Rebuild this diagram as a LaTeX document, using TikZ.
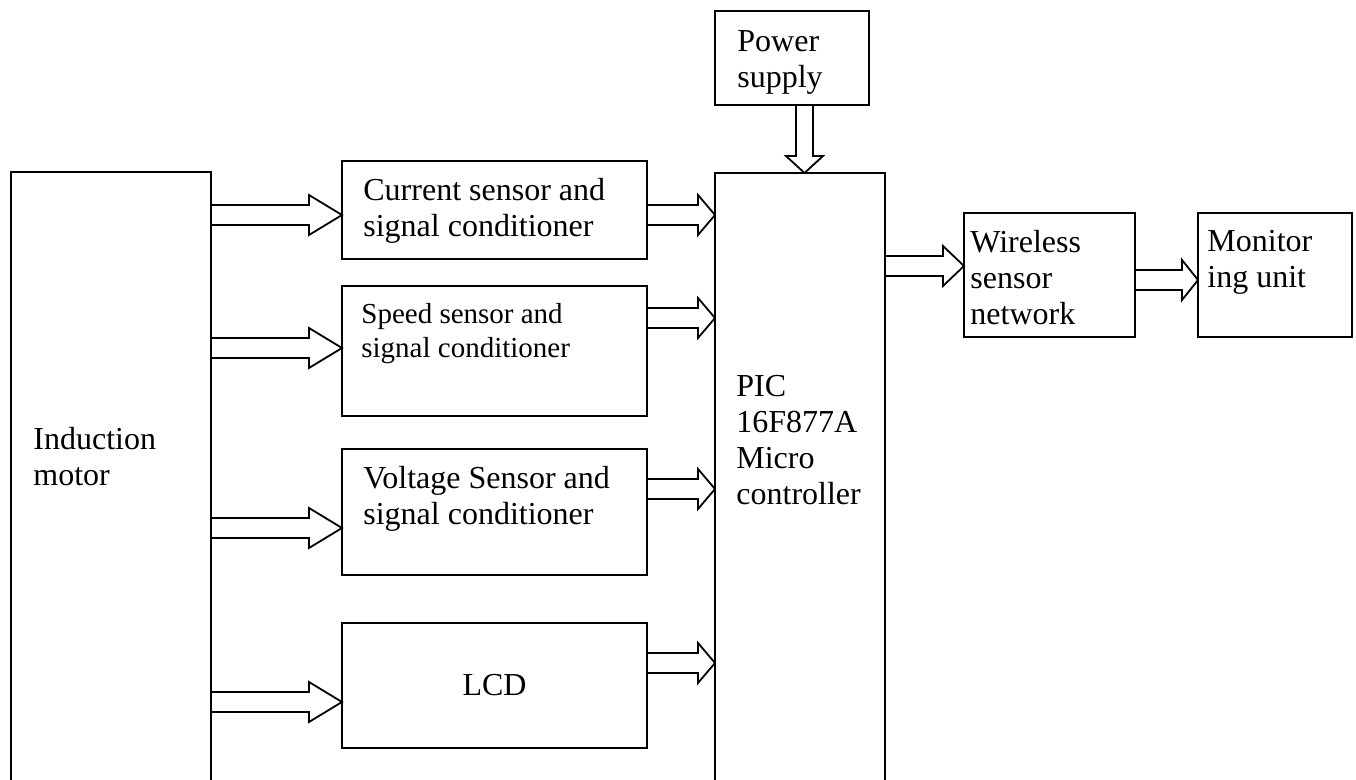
\documentclass[tikz,border=0pt]{standalone}
\usepackage{fontspec}
\setmainfont{Liberation Serif}
\usetikzlibrary{positioning,calc}

% hollow block arrow, horizontal: from x of #2 to the point #3
\newcommand{\blockarr}[3][8.5pt]{%
  \draw[hollow] let \p1=(#2), \p2=(#3) in
    (\x1,\y2+5pt) -- (\x2-#1,\y2+5pt) -- (\x2-#1,\y2+10pt) -- (\x2,\y2)
    -- (\x2-#1,\y2-10pt) -- (\x2-#1,\y2-5pt) -- (\x1,\y2-5pt);}
% same, pointing down: from y of #2 to the point #3
\newcommand{\blockarrdown}[3][8.5pt]{%
  \draw[hollow] let \p1=(#2), \p2=(#3) in
    (\x2-4.25pt,\y1) -- (\x2-4.25pt,\y2+#1) -- (\x2-9.25pt,\y2+#1) -- (\x2,\y2)
    -- (\x2+9.25pt,\y2+#1) -- (\x2+4.25pt,\y2+#1) -- (\x2+4.25pt,\y1);}

\begin{document}
\begin{tikzpicture}[
	x=0.5pt, y=-0.5pt,
	font=\fontsize{16}{18}\selectfont,
	box/.style={draw=black, line width=0.9pt, anchor=north west, inner sep=0pt, outer sep=0pt},
	txt/.style={align=left, inner sep=0pt},
	hollow/.style={draw=black, line width=0.9pt, line join=miter}
	]
	\useasboundingbox (0,0) rectangle (1356,780);
	\clip (0,0) rectangle (1356,780);
	% blocks
	\node[box, minimum width=100pt, minimum height=314pt] (motor) at (11,172) {};
	\node[box, minimum width=152.5pt, minimum height=49pt] (cur) at (342,161) {};
	\node[box, minimum width=152.5pt, minimum height=65pt] (spd) at (342,286) {};
	\node[box, minimum width=152.5pt, minimum height=63pt] (volt) at (342,449) {};
	\node[box, minimum width=152.5pt, minimum height=62.5pt] (lcd) at (342,623) {LCD};
	\node[box, minimum width=85pt, minimum height=313.5pt] (pic) at (715,173) {};
	\node[box, minimum width=77pt, minimum height=47pt] (pwr) at (715,11) {};
	\node[box, minimum width=85.5pt, minimum height=62pt] (wsn) at (964,213) {};
	\node[box, minimum width=77pt, minimum height=62pt] (mon) at (1198,213) {};
	% texts
	\node[txt, below right=127.5pt and 11pt of motor.north west] (motortext) {Induction\\motor};
	\node[txt, below right=8.5pt and 10.5pt of cur.north west] (curtext) {Current sensor and\\signal conditioner};
	\node[txt, below right=8.5pt and 9.5pt of spd.north west, font=\fontsize{14.5}{17}\selectfont] (spdtext) {Speed sensor and\\signal conditioner};
	\node[txt, below right=8.5pt and 10.5pt of volt.north west] (volttext) {Voltage Sensor and\\signal conditioner};
	\node[txt, below right=101pt and 10.5pt of pic.north west] (pictext) {PIC\\16F877A\\Micro\\controller};
	\node[txt, below right=9.5pt and 11pt of pwr.north west] (pwrtext) {Power\\supply};
	\node[txt, below right=8.5pt and 3pt of wsn.north west] (wsntext) {Wireless\\sensor\\network};
	\node[txt, below right=8.5pt and 4.5pt of mon.north west] (montext) {Monitor\\ing unit};
	% arrows
	\blockarr[16.5pt]{motor.east}{$(cur.west)+(0,5)$}
	\blockarr[16.5pt]{motor.east}{$(spd.west)+(0,-3)$}
	\blockarr[16.5pt]{motor.east}{$(volt.west)+(0,16)$}
	\blockarr[16.5pt]{motor.east}{$(lcd.west)+(0,16.5)$}
	\blockarr{cur.east}{$(pic.west |- cur.west)+(0,5)$}
	\blockarr{spd.east}{$(pic.west |- spd.west)+(0,-33)$}
	\blockarr{volt.east}{$(pic.west |- volt.west)+(0,-23)$}
	\blockarr{lcd.east}{$(pic.west |- lcd.west)+(0,-22.5)$}
	\blockarr[10.5pt]{pic.east |- wsn.west}{$(wsn.west)+(0,-9)$}
	\blockarr[8pt]{wsn.east}{$(mon.west)+(0,5)$}
	\blockarrdown{pwr.south}{$(pic.north)+(4.5,0)$}
\end{tikzpicture}
\end{document}
